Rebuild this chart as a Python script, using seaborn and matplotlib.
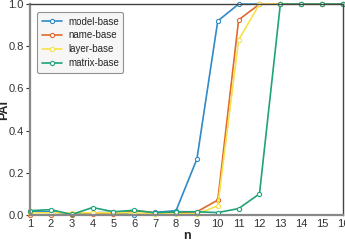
import matplotlib.pyplot as plt
import pandas as pd
import seaborn as sns

sns.set_theme(style="ticks")
plt.rcParams['font.family'] = ['Liberation Sans', 'DejaVu Sans']

n = list(range(1, 17))
model_base = [0.015, 0.015, 0.005, 0.01, 0.012, 0.0, 0.012, 0.02, 0.265, 0.92, 1.0, 1.0, 1.0, 1.0, 1.0, 1.0]
name_base = [0.0, 0.0, 0.0, 0.005, 0.005, 0.02, 0.01, 0.01, 0.015, 0.07, 0.925, 1.0, 1.0, 1.0, 1.0, 1.0]
layer_base = [0.01, 0.01, 0.01, 0.01, 0.01, 0.01, 0.005, 0.005, 0.005, 0.043, 0.83, 1.0, 1.0, 1.0, 1.0, 1.0]
matrix_base = [0.02, 0.025, 0.002, 0.035, 0.015, 0.022, 0.01, 0.015, 0.015, 0.011, 0.03, 0.10, 1.0, 1.0, 1.0, 1.0]

methods = ["model-base", "name-base", "layer-base", "matrix-base"]
df = pd.concat([
    pd.DataFrame({"n": n, "PAI": v, "method": m})
    for m, v in zip(methods, [model_base, name_base, layer_base, matrix_base])
])

palette = {"model-base": "#2f8ac6", "name-base": "#e26a2c",
           "layer-base": "#f6e24a", "matrix-base": "#1ea37a"}

fig = plt.figure(figsize=(3.45, 2.42), dpi=100)
ax = fig.add_axes([0.087, 0.112, 0.907, 0.871])

sns.lineplot(data=df, x="n", y="PAI", hue="method", palette=palette,
             marker="o", markersize=3, linewidth=1.2, ax=ax, legend=True)

# open circle markers edged in the line colour
for line in ax.get_lines():
    line.set_markerfacecolor("white")
    line.set_markeredgecolor(line.get_color())
    line.set_markeredgewidth(0.8)
    line.set_clip_on(False)

ax.set_xlim(1, 16)
ax.set_ylim(0, 1.0)
ax.set_xticks(n)
ax.set_yticks([0, 0.2, 0.4, 0.6, 0.8, 1.0])
ax.set_yticklabels(["0.0", "0.2", "0.4", "0.6", "0.8", "1.0"])
ax.tick_params(labelsize=8, length=3, width=0.8, pad=1.5, colors="#333333")
ax.tick_params(axis="x", length=0, pad=3)
ax.set_xlabel("n", fontsize=9, fontweight="bold", labelpad=1)
ax.set_ylabel("PAI", fontsize=9, fontweight="bold", labelpad=0)
ax.yaxis.set_label_coords(-0.062, 0.5)

for s in ["left", "bottom"]:
    ax.spines[s].set_color("#888888")
    ax.spines[s].set_linewidth(1.6)
for s in ["top", "right"]:
    ax.spines[s].set_color("#444444")
    ax.spines[s].set_linewidth(1.0)

leg = ax.legend(loc="upper left", fontsize=7, frameon=True, fancybox=True,
                bbox_to_anchor=(0.008, 0.985), handlelength=2.1,
                borderpad=0.45, labelspacing=0.4, handletextpad=0.6)
leg.get_frame().set_edgecolor("#777777")
leg.get_frame().set_facecolor("#f4f4f6")
leg.get_frame().set_linewidth(0.8)
for h in leg.get_lines():
    h.set_markerfacecolor("white")
    h.set_markeredgecolor(h.get_color())
    h.set_markeredgewidth(0.8)

fig.savefig("out.png", dpi=100)
